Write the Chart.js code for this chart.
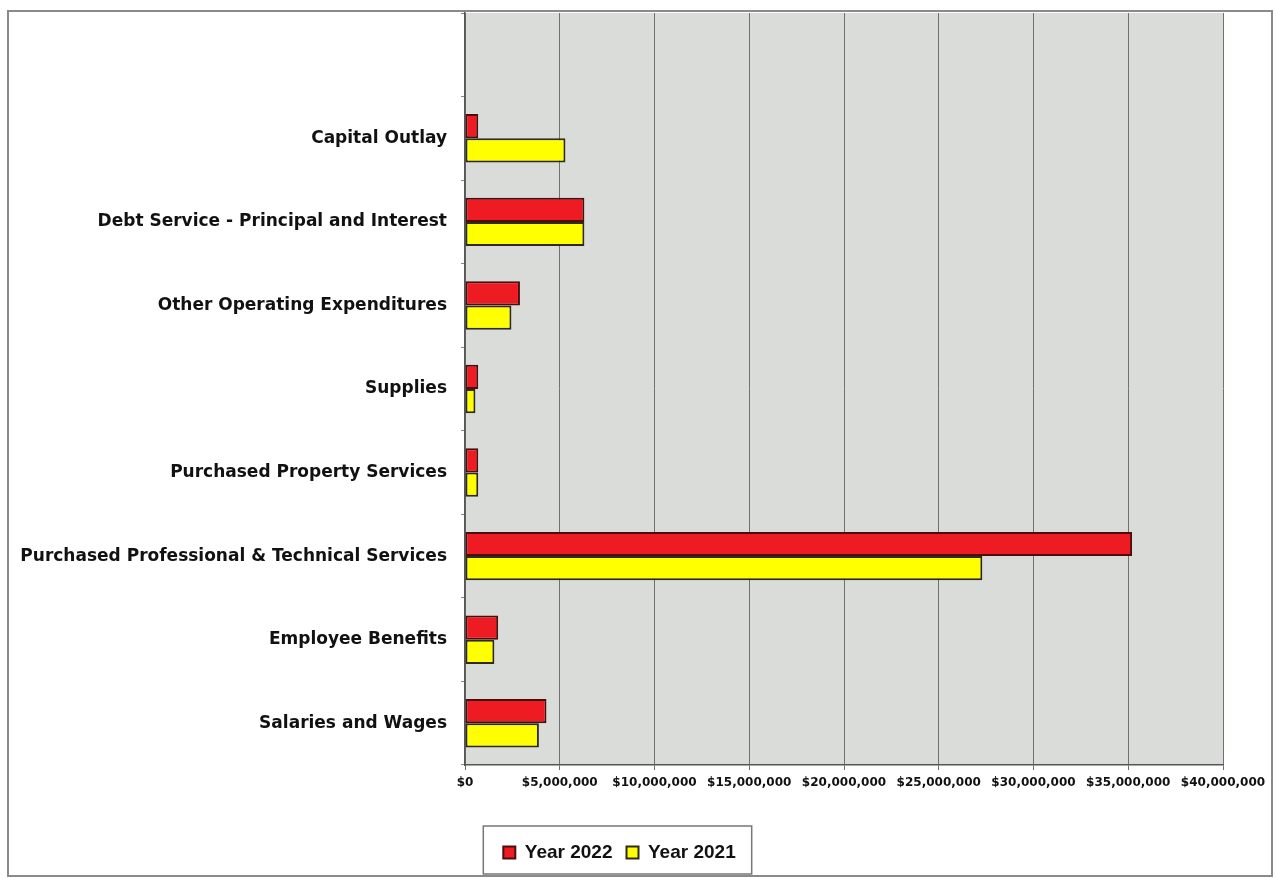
<!DOCTYPE html>
<html>
<head>
<meta charset="utf-8">
<script src="https://cdn.jsdelivr.net/npm/chart.js@4/dist/chart.umd.min.js"></script>
<style>
  html, body { margin: 0; padding: 0; background: #fff; }
  #wrap { width: 1276px; height: 878px; }
</style>
</head>
<body>
<div id="wrap"><canvas id="myChart" width="1276" height="878"></canvas></div>
<script>
// first entry is the empty band at the top of the plot
var categories = ['', 'Capital Outlay', 'Debt Service - Principal and Interest', 'Other Operating Expenditures',
  'Supplies', 'Purchased Property Services', 'Purchased Professional & Technical Services',
  'Employee Benefits', 'Salaries and Wages'];
var year2022 = [null, 700000, 6300000, 2900000, 700000, 700000, 35200000, 1750000, 4300000];
var year2021 = [null, 5300000, 6300000, 2450000, 550000, 700000, 27300000, 1550000, 3900000];
var seriesNames = ['Year 2022', 'Year 2021'];
var xMax = 40000000;
var xStep = 5000000;

// grey plot background, outer frame and the box round the legend
var decor = {
  id: 'decor',
  beforeDraw: function (chart) {
    var ctx = chart.ctx, a = chart.chartArea;
    ctx.save();
    ctx.fillStyle = '#d9dcd8';
    ctx.fillRect(a.left, a.top, a.right - a.left, a.bottom - a.top);
    ctx.restore();
  },
  afterDraw: function (chart) {
    var ctx = chart.ctx;
    ctx.save();
    ctx.strokeStyle = '#8a8a8a';
    ctx.lineWidth = 2;
    ctx.strokeRect(8, 11, 1264, 865);
    var lg = chart.legend;
    if (lg && lg.legendHitBoxes.length) {
      var l = Infinity, r = -Infinity;
      lg.legendHitBoxes.forEach(function (b) {
        l = Math.min(l, b.left);
        r = Math.max(r, b.left + b.width);
      });
      ctx.strokeStyle = '#777';
      ctx.lineWidth = 1.5;
      ctx.strokeRect(l - 20, lg.top - 3, (r - l) + 36, lg.bottom - lg.top + 5);
    }
    ctx.restore();
  }
};

var ctx = document.getElementById('myChart').getContext('2d');
var chart = new Chart(ctx, {
  type: 'bar',
  data: {
    labels: categories,
    datasets: [{
      label: seriesNames[0],
      data: year2022,
      backgroundColor: '#ee1b22',
      borderColor: '#4a0e0e',
      borderWidth: 2,
      borderSkipped: false
    }, {
      label: seriesNames[1],
      data: year2021,
      backgroundColor: '#ffff00',
      borderColor: '#2e2a18',
      borderWidth: 2,
      borderSkipped: false
    }]
  },
  options: {
    indexAxis: 'y',
    responsive: false,
    animation: false,
    barPercentage: 1,
    categoryPercentage: 0.58,
    layout: { padding: { top: 13, right: 53, left: 16, bottom: 6 } },
    plugins: {
      tooltip: { enabled: false },
      legend: {
        position: 'bottom',
        labels: {
          color: '#111',
          font: { family: 'Liberation Sans', size: 19, weight: 'bold' },
          boxWidth: 12,
          boxHeight: 12,
          padding: 14
        }
      }
    },
    scales: {
      x: {
        min: 0,
        max: xMax,
        ticks: {
          stepSize: xStep,
          color: '#111',
          padding: 6,
          maxRotation: 0,
          font: { family: 'DejaVu Sans', size: 12, weight: 'bold' },
          callback: function (v) { return '$' + v.toLocaleString('en-US'); }
        },
        grid: { color: '#707070', lineWidth: 1, tickLength: 5 },
        border: { color: '#555', width: 1.5 },
        afterFit: function (s) { s.height = 64; }
      },
      y: {
        ticks: {
          color: '#111',
          padding: 14,
          font: { family: 'DejaVu Sans', size: 17, weight: 'bold' }
        },
        grid: { drawOnChartArea: false, color: '#888', tickLength: 4 },
        border: { color: '#555', width: 1.5 },
        afterFit: function (s) {
          s.width = 449;
          s.paddingTop = 0;
          s.paddingBottom = 0;
        }
      }
    }
  },
  plugins: [decor]
});
</script>
</body>
</html>
